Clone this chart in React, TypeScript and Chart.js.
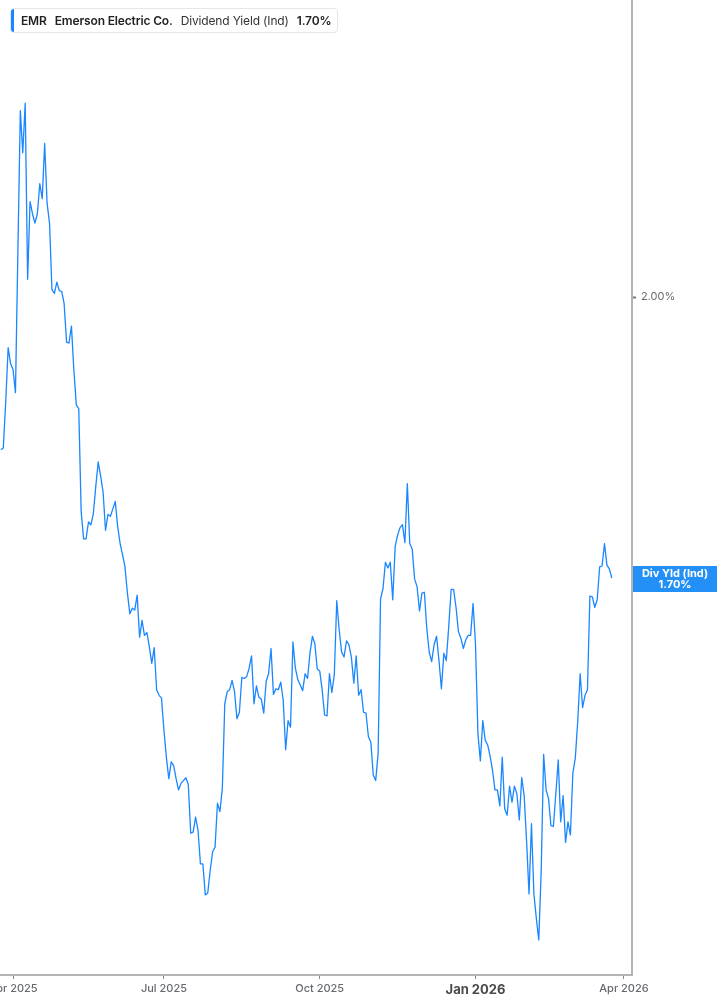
import React, { useEffect, useRef } from 'react';
import { Chart, registerables } from 'chart.js';

Chart.register(...registerables);

// ---- calendar / axis data ----
const FIRST_DATE = '2025-03-25';
const HOLIDAYS = [
  '2025-04-18', '2025-05-26', '2025-06-19', '2025-07-04', '2025-09-01',
  '2025-11-27', '2025-12-25', '2026-01-01', '2026-01-19', '2026-02-16', '2026-04-03',
];
const TICK_DATES = ['2025-04-01', '2025-07-01', '2025-10-01', '2026-01-02', '2026-04-01'];
const TICK_LABELS = ['Apr 2025', 'Jul 2025', 'Oct 2025', 'Jan 2026', 'Apr 2026'];
const BOLD_TICK = 'Jan 2026';
const Y_TICKS = [2.0];

// ---- series values: dividend yield (%) per trading day ----
const yieldsMarJun2025 = [
  1.837, 1.839, 1.888, 1.946, 1.929, 1.923, 1.898, 2.049, 2.199, 2.154,
  2.207, 2.019, 2.102, 2.089, 2.079, 2.089, 2.121, 2.105, 2.164, 2.100,
  2.079, 2.008, 2.004, 2.016, 2.007, 2.006, 1.993, 1.952, 1.951, 1.969,
  1.922, 1.885, 1.881, 1.771, 1.742, 1.742, 1.760, 1.757, 1.769, 1.798,
  1.824, 1.809, 1.792, 1.751, 1.768, 1.766, 1.774, 1.782, 1.755, 1.737,
  1.725, 1.712, 1.684, 1.662, 1.668, 1.666, 1.682, 1.637, 1.655, 1.639,
  1.642, 1.627, 1.609, 1.626, 1.581, 1.575, 1.572,
];
const yieldsQ3_2025 = [
  1.538, 1.509, 1.486, 1.504, 1.500, 1.486, 1.474, 1.481, 1.484, 1.487,
  1.480, 1.428, 1.429, 1.445, 1.431, 1.395, 1.395, 1.362, 1.364, 1.388,
  1.408, 1.413, 1.460, 1.451, 1.476, 1.566, 1.579, 1.581, 1.591, 1.579,
  1.550, 1.557, 1.594, 1.593, 1.595, 1.604, 1.617, 1.566, 1.585, 1.573,
  1.571, 1.556, 1.590, 1.598, 1.625, 1.576, 1.582, 1.581, 1.589, 1.570,
  1.517, 1.548, 1.541, 1.632, 1.604, 1.592, 1.586, 1.580, 1.598, 1.593,
  1.620, 1.638, 1.630, 1.603,
];
const yieldsQ4_2025 = [
  1.601, 1.581, 1.554, 1.553, 1.598, 1.578, 1.597, 1.676, 1.645, 1.621,
  1.616, 1.633, 1.629, 1.616, 1.588, 1.617, 1.575, 1.581, 1.557, 1.556,
  1.531, 1.525, 1.490, 1.484, 1.513, 1.678, 1.689, 1.717, 1.711, 1.717,
  1.677, 1.734, 1.746, 1.754, 1.757, 1.738, 1.801, 1.737, 1.731, 1.699,
  1.691, 1.665, 1.684, 1.685, 1.646, 1.621, 1.611, 1.629, 1.638, 1.612,
  1.582, 1.620, 1.612, 1.648, 1.688, 1.688, 1.669, 1.643, 1.636, 1.625,
  1.634, 1.639, 1.639, 1.673,
];
const yieldsQ1_2026 = [
  1.630, 1.534, 1.505, 1.548, 1.527, 1.522, 1.510, 1.495, 1.474, 1.474,
  1.457, 1.509, 1.454, 1.447, 1.478, 1.461, 1.478, 1.470, 1.442, 1.487,
  1.468, 1.419, 1.363, 1.438, 1.363, 1.337, 1.314, 1.388, 1.512, 1.474,
  1.465, 1.436, 1.435, 1.470, 1.506, 1.440, 1.468, 1.418, 1.440, 1.426,
  1.492, 1.508, 1.547, 1.598, 1.562, 1.575, 1.581, 1.681, 1.680, 1.669,
  1.677, 1.712, 1.713, 1.737, 1.714, 1.710, 1.700,
];

const LEGEND_TICKER = 'EMR';
const LEGEND_NAME = 'Emerson Electric Co.';
const LEGEND_METRIC = 'Dividend Yield (Ind)';
const LAST_LABEL_TITLE = 'Div Yld (Ind)';

const LINE_COLOR = '#1a86ff';
const TAG_COLOR = '#2290f7';

function tradingDays(start: string, count: number): string[] {
  const out: string[] = [];
  const hol = new Set(HOLIDAYS);
  const d = new Date(start + 'T00:00:00Z');
  while (out.length < count) {
    const dow = d.getUTCDay();
    const iso = d.toISOString().slice(0, 10);
    if (dow !== 0 && dow !== 6 && !hol.has(iso)) out.push(iso);
    d.setUTCDate(d.getUTCDate() + 1);
  }
  return out;
}

export default function App() {
  const ref = useRef<HTMLCanvasElement>(null);

  useEffect(() => {
    document.body.style.margin = '0';
    const yields = [...yieldsMarJun2025, ...yieldsQ3_2025, ...yieldsQ4_2025, ...yieldsQ1_2026];
    const days = tradingDays(FIRST_DATE, 280);
    const points = yields.map((v, i) => ({ x: i, y: v }));
    const tickIdx = TICK_DATES.map((d) => days.indexOf(d));
    const labelMap = new Map<number, string>();
    tickIdx.forEach((v, i) => labelMap.set(v, TICK_LABELS[i]));
    const last = yields[yields.length - 1];

    const lastTag = {
      id: 'lastTag',
      afterDraw(chart: any) {
        const { ctx, chartArea, scales } = chart;
        const py = scales.y.getPixelForValue(last);
        const left = chartArea.right + 1;
        const w = chart.width - left;
        ctx.save();
        ctx.fillStyle = TAG_COLOR;
        ctx.fillRect(left, Math.round(py - 12.5), w, 26);
        ctx.fillStyle = '#ffffff';
        ctx.font = 'bold 11px Inter, "Noto Sans", sans-serif';
        ctx.textAlign = 'center';
        ctx.textBaseline = 'middle';
        ctx.fillText(LAST_LABEL_TITLE, left + w / 2, py - 5);
        ctx.fillText(last.toFixed(2) + '%', left + w / 2, py + 6);
        ctx.restore();
      },
    };

    Chart.defaults.font.family = 'Inter, "Noto Sans", sans-serif';

    const chart = new Chart(ref.current!, {
      type: 'line',
      data: {
        datasets: [
          {
            data: points,
            borderColor: LINE_COLOR,
            borderWidth: 1.3,
            pointRadius: 0,
            tension: 0,
            fill: false,
            borderJoinStyle: 'round',
          },
        ],
      },
      options: {
        animation: false,
        responsive: false,
        events: [],
        layout: { padding: 0 },
        plugins: { legend: { display: false }, tooltip: { enabled: false } },
        scales: {
          x: {
            type: 'linear',
            position: 'bottom',
            min: -0.35,
            max: 259.3,
            bounds: 'data',
            afterBuildTicks: (s: any) => {
              s.ticks = tickIdx.map((v) => ({ value: v }));
            },
            afterFit: (s: any) => {
              s.height = 30;
              s.paddingLeft = 0;
              s.paddingRight = 0;
            },
            ticks: {
              autoSkip: false,
              maxRotation: 0,
              minRotation: 0,
              padding: 3,
              callback: (v: any) => labelMap.get(v) ?? '',
              color: (c: any) => (labelMap.get(c.tick?.value) === BOLD_TICK ? '#4a4a4a' : '#666a70'),
              font: (c: any) =>
                labelMap.get(c.tick?.value) === BOLD_TICK
                  ? { size: 13, weight: 'bold' }
                  : { size: 11, weight: '500' },
            },
            grid: { drawOnChartArea: false, drawTicks: true, tickLength: 4, tickColor: '#8a8a8a', tickWidth: 1 },
            border: { display: true, color: '#b4b4b4', width: 2 },
          },
          y: {
            type: 'linear',
            position: 'right',
            min: 1.2765,
            max: 2.3171,
            bounds: 'data',
            afterBuildTicks: (s: any) => {
              s.ticks = Y_TICKS.map((v) => ({ value: v }));
            },
            afterFit: (s: any) => {
              s.width = 85;
              s.paddingTop = 0;
              s.paddingBottom = 0;
            },
            ticks: {
              callback: (v: any) => Number(v).toFixed(2) + '%',
              color: '#666a70',
              font: { size: 11 },
              padding: 5,
            },
            grid: { drawOnChartArea: false, drawTicks: true, tickLength: 4, tickColor: '#777', tickWidth: 2 },
            border: { display: true, color: '#b4b4b4', width: 2 },
          },
        },
      } as any,
      plugins: [lastTag],
    });
    return () => chart.destroy();
  }, []);

  return (
    <div style={{ position: 'relative', width: 717, height: 1005, background: '#fff', overflow: 'hidden' }}>
      <canvas ref={ref} width={717} height={1005} style={{ display: 'block', width: 717, height: 1005 }} />
      <div
        style={{
          position: 'absolute',
          left: 10,
          top: 8,
          height: 25,
          display: 'flex',
          alignItems: 'center',
          background: '#fff',
          border: '1px solid #e6e6e6',
          borderRadius: 4,
          boxSizing: 'border-box',
          fontFamily: 'Inter, "Noto Sans", sans-serif',
          fontSize: 12,
          letterSpacing: '-0.15px',
          color: '#222',
          paddingRight: 6,
          overflow: 'hidden',
          whiteSpace: 'nowrap',
        }}
      >
        <div style={{ width: 3, alignSelf: 'stretch', background: LINE_COLOR }} />
        <span style={{ fontWeight: 600, marginLeft: 7 }}>{LEGEND_TICKER}</span>
        <span style={{ fontWeight: 600, marginLeft: 8 }}>{LEGEND_NAME}</span>
        <span style={{ marginLeft: 8, color: '#333' }}>{LEGEND_METRIC}</span>
        <span style={{ fontWeight: 600, marginLeft: 8 }}>{yieldsQ1_2026[yieldsQ1_2026.length - 1].toFixed(2)}%</span>
      </div>
    </div>
  );
}
